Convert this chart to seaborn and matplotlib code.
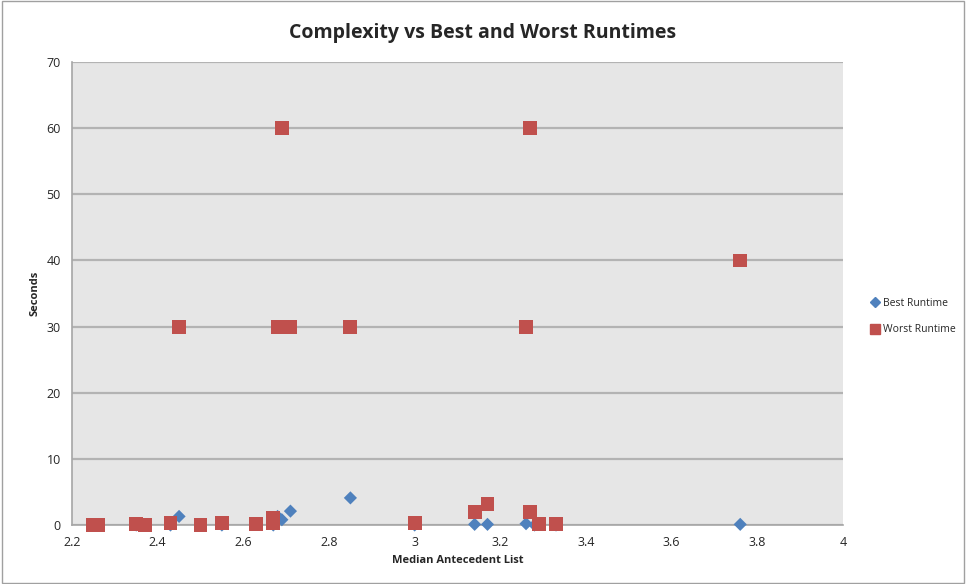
import pandas as pd
import matplotlib.pyplot as plt
import seaborn as sns
from matplotlib.lines import Line2D

# values
best_x = [2.25, 2.35, 2.43, 2.45, 2.55, 2.67, 2.68, 2.69, 2.71, 2.85,
          3.00, 3.14, 3.17, 3.26, 3.28, 3.33, 3.76]
best_y = [0.0, 0.0, 0.0, 1.3, 0.0, 0.0, 1.3, 0.8, 2.1, 4.1,
          0.0, 0.1, 0.1, 0.2, 0.0, 0.0, 0.1]

worst_x = [2.25, 2.26, 2.35, 2.37, 2.43, 2.45, 2.50, 2.55, 2.63, 2.67, 2.67,
           2.68, 2.69, 2.71, 2.85, 3.00, 3.14, 3.17, 3.26, 3.27, 3.27, 3.29,
           3.33, 3.76]
worst_y = [0.0, 0.0, 0.1, 0.0, 0.3, 30, 0.0, 0.3, 0.1, 0.3, 1.0,
           30, 60, 30, 30, 0.3, 2.0, 3.2, 30, 60, 2.0, 0.2,
           0.2, 40]

df = pd.concat([
    pd.DataFrame({"x": best_x, "y": best_y, "Series": "Best Runtime"}),
    pd.DataFrame({"x": worst_x, "y": worst_y, "Series": "Worst Runtime"}),
])

sns.set_style("white")
plt.rcParams["font.family"] = ["Open Sans", "DejaVu Sans"]

fig = plt.figure(figsize=(9.66, 5.84), dpi=100)
ax = fig.add_axes([0.0745, 0.101, 0.7982, 0.7928])
ax.set_facecolor("#e6e6e6")

sns.scatterplot(
    data=df, x="x", y="y", hue="Series", style="Series",
    markers={"Best Runtime": "D", "Worst Runtime": "s"},
    palette={"Best Runtime": "#4f81bd", "Worst Runtime": "#c0504d"},
    size="Series", sizes={"Best Runtime": 45, "Worst Runtime": 100},
    edgecolor="none", ax=ax, zorder=3, legend=False, clip_on=False,
)

ax.set_xlim(2.2, 4.0)
ax.set_ylim(0, 70)
ax.set_xticks([2.2, 2.4, 2.6, 2.8, 3.0, 3.2, 3.4, 3.6, 3.8, 4.0])
ax.set_xticklabels(["2.2", "2.4", "2.6", "2.8", "3", "3.2", "3.4", "3.6", "3.8", "4"])
ax.set_yticks(range(0, 71, 10))
ax.yaxis.grid(True, color="#b3b3b3", linewidth=1.6)
ax.set_axisbelow(True)
ax.tick_params(length=0, labelsize=9, pad=8)

for side in ["top", "right"]:
    ax.spines[side].set_visible(False)
for side in ["left", "bottom"]:
    ax.spines[side].set_color("#a6a6a6")
    ax.spines[side].set_linewidth(1.2)

ax.set_xlabel("Median Antecedent List", fontsize=8, fontweight="bold", labelpad=4)
ax.set_ylabel("Seconds", fontsize=8, fontweight="bold", labelpad=4)
fig.text(0.5, 0.943, "Complexity vs Best and Worst Runtimes", ha="center",
         va="center", fontsize=14, fontweight="bold")

# legend on the right, like the spreadsheet chart
handles = [
    Line2D([], [], marker="D", linestyle="", color="#4f81bd", markersize=5),
    Line2D([], [], marker="s", linestyle="", color="#c0504d", markersize=7),
]
fig.legend(handles, ["Best Runtime", "Worst Runtime"], loc="center left",
           bbox_to_anchor=(0.891, 0.458), frameon=False, fontsize=7.5,
           handletextpad=0.2, handlelength=1.0, labelspacing=1.5)

# thin frame round the whole chart
fig.patches.append(plt.Rectangle((0.002, 0.002), 0.996, 0.996, transform=fig.transFigure,
                                 fill=False, edgecolor="#a0a0a0", linewidth=1))

plt.savefig("out.png", dpi=100)
